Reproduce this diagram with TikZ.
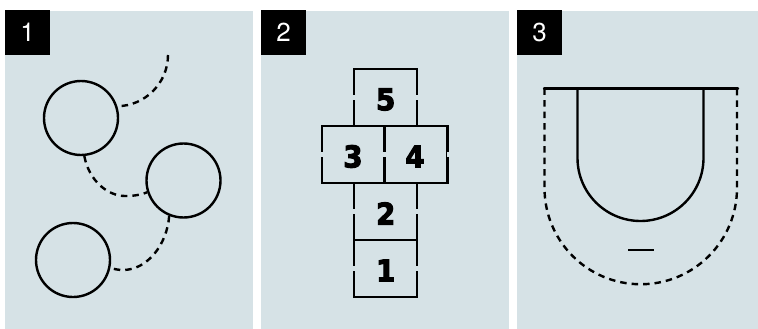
\documentclass[tikz,border=0pt]{standalone}
\usepackage{fontspec}
\setmainfont{TeX Gyre Heros}
\newfontfamily\blocky[FakeBold=3.5,FakeStretch=0.92]{DejaVu Sans Bold}
\definecolor{panelc}{HTML}{D6E2E6}
\tikzset{
 panel/.style={fill=panelc,draw=none},
 tag/.style={fill=black,text=white,minimum size=45pt,inner sep=0pt,font=\fontsize{26}{26}\selectfont},
 ring/.style={circle,draw=black,line width=2.4pt,minimum size=74pt,inner sep=0pt},
 dashline/.style={line width=2.4pt,dash pattern=on 6.5pt off 5pt},
 solidline/.style={line width=2.4pt,line cap=round},
 cell/.style={rectangle,draw=black,line width=2.4pt,minimum width=63pt,minimum height=57pt,inner sep=0pt},
 num/.style={font=\blocky\fontsize{30}{30}\selectfont,text=black},
 gap/.style={fill=panelc,draw=none,minimum width=4pt,minimum height=4.5pt,inner sep=0pt},
}
\begin{document}
\begin{tikzpicture}[x=1pt,y=-1pt]
\useasboundingbox (0,0) rectangle (758,329);
\fill[white] (0,0) rectangle (758,329);
\fill[panel] (5,11) rectangle (253,329);
\fill[panel] (261,11) rectangle (509,329);
\fill[panel] (517,11) rectangle (758,329);
\node[tag] (t1) at (27.5,32.5) {1};
\node[tag] (t2) at (283.5,32.5) {2};
\node[tag] (t3) at (539.5,32.5) {3};
% panel 1
\node[ring] (c1) at (81,118) {};
\node[ring] (c2) at (183.5,180.5) {};
\node[ring] (c3) at (73,260) {};
\coordinate (free) at (168,55);
\draw[dashline] (free) .. controls (168,83) and (145,106) .. (c1.18);
\draw[dashline] (c1.-85) .. controls (89,181) and (108,196) .. (125,196) .. controls (133,196) and (141,195) .. (c2.198);
\draw[dashline] (c2.248) .. controls (167,245) and (147,270) .. (123,270) .. controls (118,270) and (114,269) .. (c3.-12);
% panel 2
\node[cell] (s5) at (385.5,97.5) {};
\node[cell] (s3) at (353.5,154.5) {};
\node[cell] (s4) at (416,154.5) {};
\node[cell] (s2) at (385.5,211.5) {};
\node[cell] (s1) at (385.5,268.5) {};
\foreach \c in {s5,s3,s4,s2,s1}{
  \node[gap] at (\c.west) {};
  \node[gap] at (\c.east) {};
}
\node[num] (n5) at (385.7,99.5) {5};
\node[num] (n3) at (353,156.5) {3};
\node[num] (n4) at (415,156.5) {4};
\node[num] (n2) at (385.7,213.5) {2};
\node[num] (n1) at (385.7,270.5) {1};
% panel 3
\draw[solidline] (544,88.5) -- (738,88.5);
\draw[solidline] (577.5,88.5) -- (577.5,158) arc[start angle=180,end angle=0,radius=63] -- (703.5,88.5);
\draw[dashline] (544.5,88.5) -- (544.5,188) arc[start angle=180,end angle=0,radius=96.25] -- (737,88.5);
\draw[solidline,line cap=butt] (628,250) -- (654,250);
\end{tikzpicture}
\end{document}
